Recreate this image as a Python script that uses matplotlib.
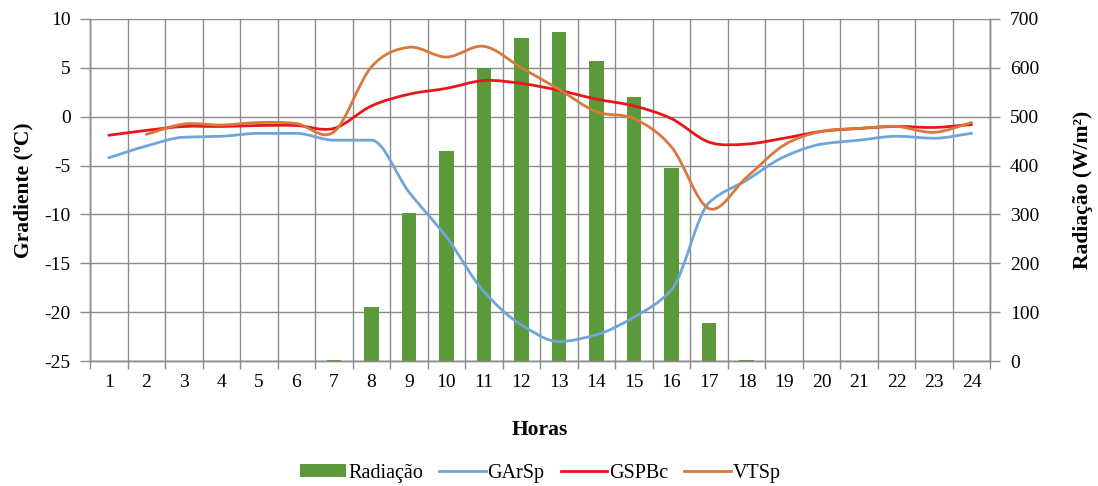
import numpy as np
import matplotlib
matplotlib.use("Agg")
import matplotlib.pyplot as plt
from matplotlib.path import Path
from matplotlib.patches import PathPatch, Patch
from matplotlib.lines import Line2D

plt.rcParams["font.family"] = ["Liberation Serif", "DejaVu Serif"]
plt.rcParams["axes.unicode_minus"] = False

# Hourly data
horas = list(range(1, 25))
radiacao = [0, 0, 0, 0, 0, 0, 3, 111, 304, 430, 600, 662, 674, 613, 541, 396, 77, 2,
            0, 0, 0, 0, 0, 0]
garsp = [-4.2, -3.0, -2.1, -2.0, -1.7, -1.7, -2.4, -2.4, -7.7, -12.3, -17.9, -21.3,
         -23.0, -22.3, -20.5, -17.7, -8.8, -6.5, -4.1, -2.8, -2.4, -2.0, -2.2, -1.7]
gspbc = [-1.9, -1.4, -1.0, -1.0, -0.9, -0.9, -1.2, 1.1, 2.3, 2.9, 3.7, 3.4,
         2.7, 1.8, 1.1, -0.2, -2.6, -2.8, -2.2, -1.5, -1.2, -1.0, -1.1, -0.8]
vtsp = [np.nan, -1.8, -0.75, -0.85, -0.6, -0.7, -1.55, 5.1, 7.1, 6.1, 7.2, 5.0,
        2.8, 0.5, -0.2, -3.1, -9.4, -6.2, -2.9, -1.5, -1.2, -1.0, -1.6, -0.6]

C_BAR = "#5b9a3a"
C_BLUE = "#6fa5d8"
C_RED = "#e8161b"
C_ORANGE = "#d9783d"
C_GRID = "#8c8c8c"


def smooth_path(x, y, monotone=False):
    """Cubic Bezier path through the points (smoothed line)."""
    pts = np.array([(a, b) for a, b in zip(x, y) if not np.isnan(b)], dtype=float)
    n = len(pts)
    h = np.diff(pts[:, 0])
    d = np.diff(pts[:, 1]) / h
    if monotone:
        # Fritsch-Carlson slopes: no overshoot on flat stretches
        m = np.zeros(n)
        m[0], m[-1] = d[0], d[-1]
        for i in range(1, n - 1):
            if d[i - 1] * d[i] > 0:
                m[i] = 2.0 / (1.0 / d[i - 1] + 1.0 / d[i])
    else:
        m = np.empty(n)
        m[0], m[-1] = d[0], d[-1]
        m[1:-1] = (pts[2:, 1] - pts[:-2, 1]) / (pts[2:, 0] - pts[:-2, 0])
    verts = [tuple(pts[0])]
    codes = [Path.MOVETO]
    for i in range(n - 1):
        x0, y0 = pts[i]
        x1, y1 = pts[i + 1]
        verts += [(x0 + h[i] / 3, y0 + m[i] * h[i] / 3),
                  (x1 - h[i] / 3, y1 - m[i + 1] * h[i] / 3),
                  (x1, y1)]
        codes += [Path.CURVE4] * 3
    return Path(verts, codes)


fig = plt.figure(figsize=(10.98, 4.86), dpi=100)
ax2 = fig.add_axes([0.082, 0.257, 0.820, 0.704])
ax = ax2.twinx()

# radiation bars and grid on the secondary axis (drawn underneath)
ax2.bar(horas, radiacao, width=0.39, color=C_BAR, zorder=3)
ax2.set_ylim(0, 700)
ax2.set_yticks(range(0, 701, 100))
ax2.set_xlim(0.5, 24.5)
ax2.set_xticks(horas)
ax2.set_xticks(np.arange(0.5, 25, 1), minor=True)
ax2.set_axisbelow(True)
ax2.grid(True, axis="y", which="major", color=C_GRID, lw=1.0)
ax2.grid(True, axis="x", which="minor", color=C_GRID, lw=1.0)
ax2.yaxis.tick_right()
ax2.yaxis.set_label_position("right")
ax2.tick_params(axis="x", which="major", length=0, pad=9, labelsize=14)
ax2.tick_params(axis="x", which="minor", length=6, color=C_GRID, width=1.0)
ax2.tick_params(axis="y", length=7, color=C_GRID, width=1.0, labelsize=14, pad=7)
ax2.set_ylabel("Radiação (W/m²)", fontsize=15.5, fontweight="bold", labelpad=24)
ax2.set_xlabel("Horas", fontsize=15.5, fontweight="bold", labelpad=21)

# temperature gradient lines on top
ax.set_zorder(ax2.get_zorder() + 1)
ax.patch.set_visible(False)
for serie, cor, mono in [(garsp, C_BLUE, True), (gspbc, C_RED, False),
                         (vtsp, C_ORANGE, False)]:
    ax.add_patch(PathPatch(smooth_path(horas, serie, mono), fill=False, edgecolor=cor,
                           lw=2.0, capstyle="round", joinstyle="round"))
ax.set_ylim(-25, 10)
ax.set_yticks(range(-25, 11, 5))
ax.yaxis.tick_left()
ax.yaxis.set_label_position("left")
ax.tick_params(axis="y", length=7, color=C_GRID, width=1.0, labelsize=14, pad=7)
ax.set_ylabel("Gradiente (ºC)", fontsize=15.5, fontweight="bold", labelpad=8)

for a in (ax, ax2):
    for s in a.spines.values():
        s.set_color(C_GRID)
        s.set_linewidth(1.0)
    a.spines["top"].set_visible(False)

handles = [Patch(facecolor=C_BAR, edgecolor="none", label="Radiação"),
           Line2D([], [], color=C_BLUE, lw=2, label="GArSp"),
           Line2D([], [], color=C_RED, lw=2, label="GSPBc"),
           Line2D([], [], color=C_ORANGE, lw=2, label="VTSp")]
fig.legend(handles=handles, loc="center", bbox_to_anchor=(0.492, 0.026), ncol=4,
           frameon=False, fontsize=14.5, handlelength=2.3, handleheight=0.6,
           handletextpad=0.1, columnspacing=0.8, borderaxespad=0)

fig.savefig("out.png", dpi=100)
